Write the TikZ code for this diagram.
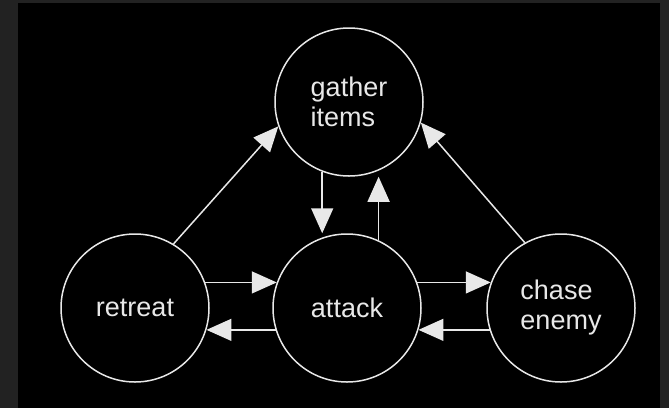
\documentclass[tikz,border=0pt]{standalone}
\usepackage{fontspec}
\setmainfont{Liberation Sans}
\usetikzlibrary{arrows.meta}
\definecolor{frame}{HTML}{222222}
\definecolor{ink}{HTML}{E8E8E8}

\begin{document}
\begin{tikzpicture}[x=1pt, y=-1pt,
		state/.style={circle, draw=ink, line width=1.5pt, minimum size=148pt, inner sep=0pt,
			text=ink, align=left, font=\fontsize{27}{30}\selectfont},
		trans/.style={draw=ink, line width=1.5pt, -{Triangle[length=25pt,width=22pt]}}]
		\fill[frame] (0,0) rectangle (669,408);
		\fill[black] (18,3) rectangle (660,408);
		\useasboundingbox (0,0) rectangle (669,408);

		\node[state] (gather)  at (349,102) {gather\\items};
		\node[state] (retreat) at (135,308) {retreat};
		\node[state] (attack)  at (347,308) {attack};
		\node[state] (chase)   at (561,308) {chase\\enemy};

		\draw[trans] (retreat.59) -- (gather.199);
		\draw[trans] (chase.119) -- (gather.-16);

		\draw[trans] (gather.249) -- (gather.249 |- attack.north);
		\draw[trans] (attack.65) -- (attack.65 |- gather.south);

		\draw[trans] (retreat.20) -- (attack.160);
		\draw[trans] (attack.197) -- (retreat.-17);
		\draw[trans] (attack.20) -- (chase.160);
		\draw[trans] (chase.197) -- (attack.-17);
	\end{tikzpicture}
\end{document}
